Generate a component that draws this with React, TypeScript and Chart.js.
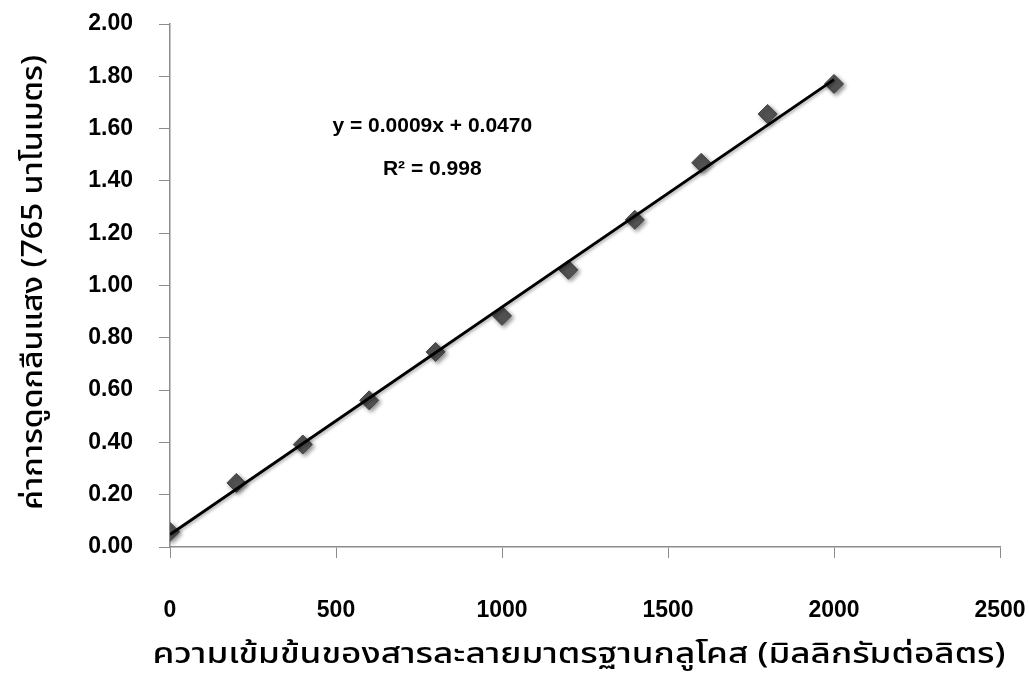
import React, { useEffect, useRef } from 'react';
import { Chart, registerables } from 'chart.js';

Chart.register(...registerables);

// ---- data ----
const concentrations = [0, 200, 400, 600, 800, 1000, 1200, 1400, 1600, 1800, 2000];
const absorbances = [0.058, 0.245, 0.392, 0.561, 0.746, 0.884, 1.06, 1.251, 1.469, 1.656, 1.771];
const xTickValues = [0, 500, 1000, 1500, 2000, 2500];
const yTickValues = [0, 0.2, 0.4, 0.6, 0.8, 1.0, 1.2, 1.4, 1.6, 1.8, 2.0];
const equationText = 'y = 0.0009x + 0.0470';
const r2Text = 'R² = 0.998';
const equationAnchor = [790, 1.61];
const r2Anchor = [790, 1.445];
const xTitle = 'ความเข้มข้นของสารละลายมาตรฐานกลูโคส (มิลลิกรัมต่อลิตร)';
const yTitle = 'ค่าการดูดกลืนแสง (765 นาโนเมตร)';

// least-squares trendline from the data (like the spreadsheet trendline)
function fitLine(xs: number[], ys: number[]) {
  const n = xs.length;
  const mx = xs.reduce((a, b) => a + b, 0) / n;
  const my = ys.reduce((a, b) => a + b, 0) / n;
  let sxy = 0, sxx = 0;
  for (let i = 0; i < n; i++) {
    sxy += (xs[i] - mx) * (ys[i] - my);
    sxx += (xs[i] - mx) * (xs[i] - mx);
  }
  const slope = sxy / sxx;
  return { slope, intercept: my - slope * mx };
}

const FONT = '"Liberation Sans", Arial, Helvetica, sans-serif';
const THAI_FONT = '"Noto Sans Thai", "Noto Sans", Tahoma, sans-serif';
const AXIS_COLOR = '#8c8c8c';

export default function App() {
  const ref = useRef<HTMLCanvasElement | null>(null);

  useEffect(() => {
    if (!ref.current) return;
    const fit = fitLine(concentrations, absorbances);
    const xMin = concentrations[0];
    const xMax = concentrations[concentrations.length - 1];
    const trend = [
      { x: xMin, y: fit.intercept + fit.slope * xMin },
      { x: xMax, y: fit.intercept + fit.slope * xMax },
    ];

    const shadowPlugin = {
      id: 'shadowPlugin',
      beforeDatasetDraw(chart: any, args: any) {
        const ctx = chart.ctx;
        ctx.save();
        if (args.index === 1) {
          ctx.shadowColor = 'rgba(0,0,0,0.45)';
          ctx.shadowBlur = 4;
          ctx.shadowOffsetX = 2;
          ctx.shadowOffsetY = 2;
        } else {
          ctx.shadowColor = 'rgba(0,0,0,0.3)';
          ctx.shadowBlur = 3;
          ctx.shadowOffsetX = 1;
          ctx.shadowOffsetY = 2;
        }
      },
      afterDatasetDraw(chart: any) {
        chart.ctx.restore();
      },
    };

    const drawStretched = (ctx: any, text: string, cx: number, cy: number, targetWidth: number, rotate: boolean) => {
      ctx.save();
      ctx.font = `500 28px ${THAI_FONT}`;
      ctx.fillStyle = '#000';
      ctx.textAlign = 'center';
      ctx.textBaseline = 'middle';
      const w = ctx.measureText(text).width;
      const k = targetWidth / w;
      ctx.translate(cx, cy);
      if (rotate) ctx.rotate(-Math.PI / 2);
      ctx.scale(k, 1);
      ctx.fillText(text, 0, 0);
      ctx.restore();
    };

    const textPlugin = {
      id: 'equationText',
      afterDraw(chart: any) {
        const ctx = chart.ctx;
        const xs = chart.scales.x;
        const ys = chart.scales.y;
        const area = chart.chartArea;
        ctx.save();
        ctx.fillStyle = '#000';
        ctx.font = `bold 21px ${FONT}`;
        ctx.textAlign = 'center';
        ctx.textBaseline = 'middle';
        ctx.fillText(equationText, xs.getPixelForValue(equationAnchor[0]), ys.getPixelForValue(equationAnchor[1]));
        ctx.fillText(r2Text, xs.getPixelForValue(r2Anchor[0]), ys.getPixelForValue(r2Anchor[1]));
        ctx.restore();
        // axis titles
        drawStretched(ctx, xTitle, (area.left + area.right) / 2 - 6, area.bottom + 110, 853, false);
        drawStretched(ctx, yTitle, 36, (area.top + area.bottom) / 2 - 3, 455, true);
      },
    };

    const chart = new Chart(ref.current, {
      type: 'scatter',
      data: {
        datasets: [
          {
            type: 'line',
            label: 'trend',
            data: trend,
            borderColor: '#000',
            borderWidth: 3,
            pointRadius: 0,
            fill: false,
            order: 0,
          } as any,
          {
            label: 'data',
            data: concentrations.map((x, i) => ({ x, y: absorbances[i] })),
            pointStyle: 'rectRot',
            pointRadius: 9.5,
            backgroundColor: '#525252',
            borderColor: '#444444',
            borderWidth: 1,
            order: 1,
          },
        ],
      },
      options: {
        animation: false,
        responsive: false,
        layout: { padding: { top: 24, right: 29, left: 0, bottom: 0 } },
        plugins: {
          legend: { display: false },
          tooltip: { enabled: false },
        },
        scales: {
          x: {
            type: 'linear',
            min: xTickValues[0],
            max: xTickValues[xTickValues.length - 1],
            afterBuildTicks(scale: any) {
              scale.ticks = xTickValues.map((v) => ({ value: v }));
            },
            afterFit(scale: any) {
              scale.height = 141;
              scale.paddingLeft = 0;
              scale.paddingRight = 0;
            },
            grid: {
              display: true,
              drawOnChartArea: false,
              drawTicks: true,
              tickLength: 11,
              color: AXIS_COLOR,
            },
            border: { display: true, color: AXIS_COLOR, width: 1.5 },
            ticks: {
              color: '#000',
              padding: 39,
              maxRotation: 0,
              font: { family: FONT, size: 23, weight: 'bold' },
              callback: (v: any) => String(v),
            },
            title: { display: false },
          },
          y: {
            type: 'linear',
            min: yTickValues[0],
            max: yTickValues[yTickValues.length - 1],
            afterBuildTicks(scale: any) {
              scale.ticks = yTickValues.map((v) => ({ value: v }));
            },
            afterFit(scale: any) {
              scale.width = 170;
              scale.paddingTop = 0;
              scale.paddingBottom = 0;
            },
            grid: {
              display: true,
              drawOnChartArea: false,
              drawTicks: true,
              tickLength: 11,
              color: AXIS_COLOR,
            },
            border: { display: true, color: AXIS_COLOR, width: 1.5 },
            ticks: {
              color: '#000',
              padding: 26,
              font: { family: FONT, size: 23, weight: 'bold' },
              callback: (v: any) => Number(v).toFixed(2),
            },
            title: { display: false },
          },
        },
      },
      plugins: [shadowPlugin, textPlugin],
    } as any);

    return () => chart.destroy();
  }, []);

  return (
    <div style={{ position: 'fixed', left: 0, top: 0, width: 1029, height: 688, background: '#fff' }}>
      <canvas ref={ref} width={1029} height={688} style={{ width: 1029, height: 688, display: 'block' }} />
    </div>
  );
}
